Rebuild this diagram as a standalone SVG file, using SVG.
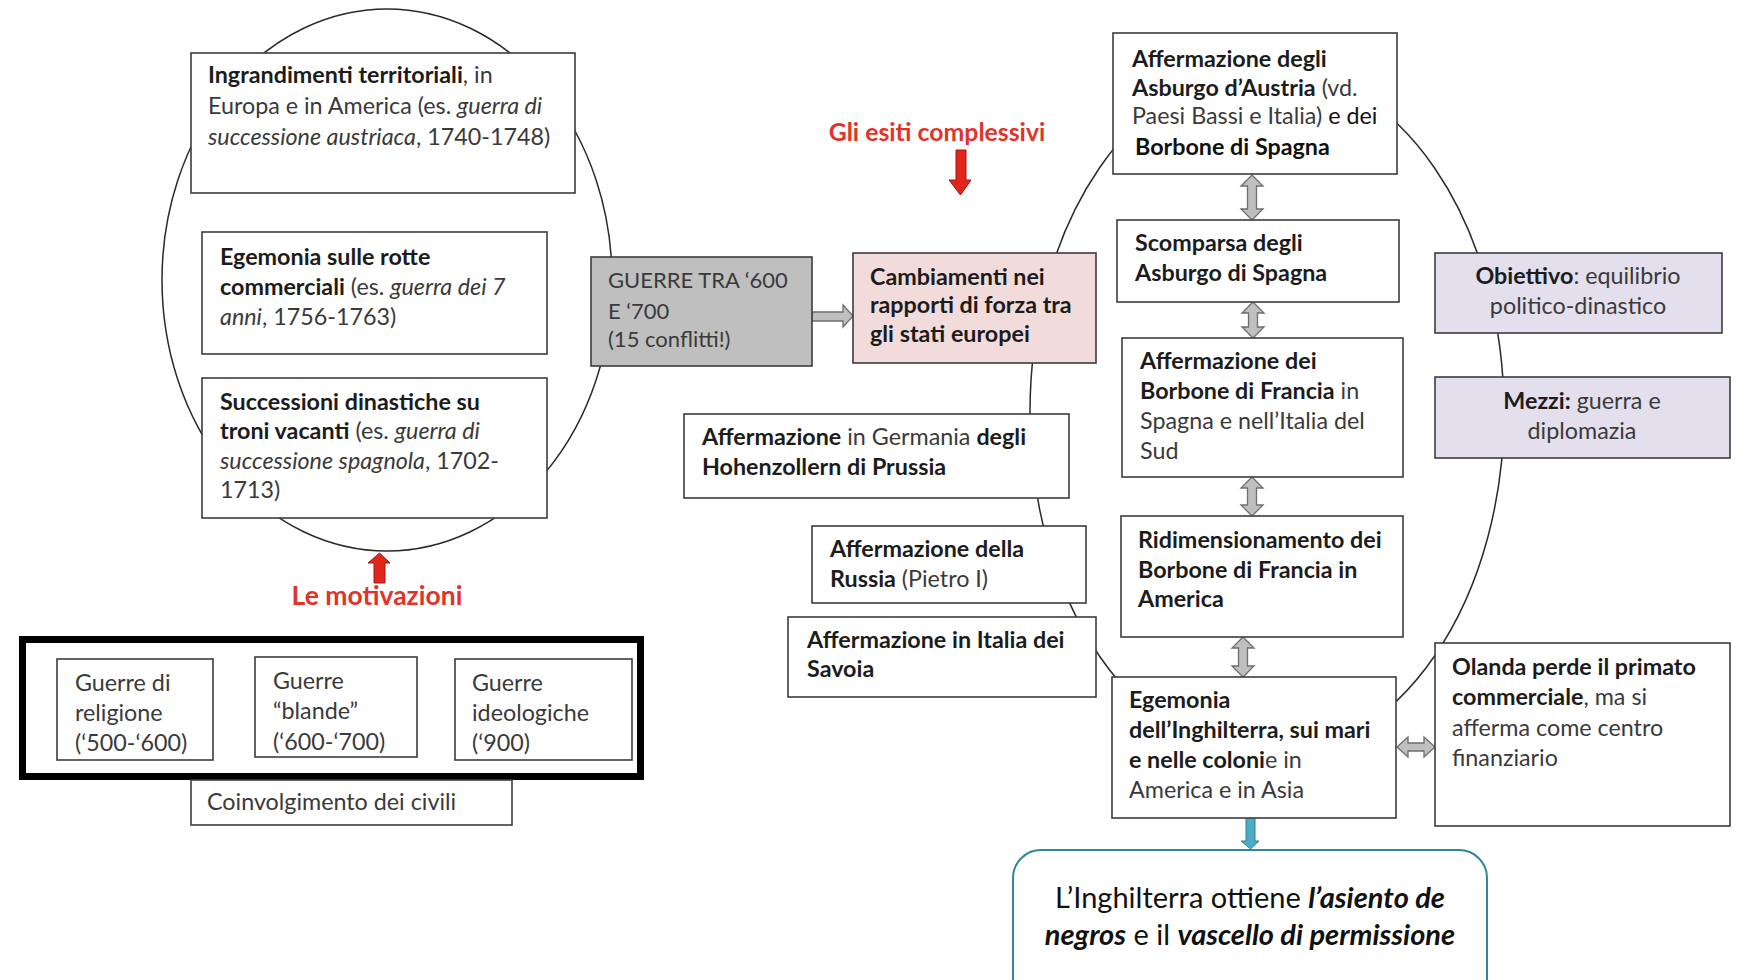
<svg xmlns="http://www.w3.org/2000/svg" width="1739" height="980" viewBox="0 0 1739 980">
<style>
.bx{fill:#fff;stroke:#3c3c3c;stroke-width:1.6}
.gray{fill:#bfbfbf;stroke:#3c3c3c;stroke-width:1.6}
.pink{fill:#f2dcdb;stroke:#3c3c3c;stroke-width:1.6}
.lav{fill:#e4dfec;stroke:#3c3c3c;stroke-width:1.6}
.ell{fill:none;stroke:#2a2a2a;stroke-width:1.5}
.t{font-family:Lato,"Liberation Sans",sans-serif;font-size:23.3px;fill:#3a3a3a}
.b{font-weight:bold;fill:#1c1c1c}
.i{font-style:italic}
.k{fill:#111}
.c{text-anchor:middle}
.red{font-family:Lato,"Liberation Sans",sans-serif;font-weight:bold;font-size:24.8px;fill:#e2332b;text-anchor:middle}
.ga{fill:#bfbfbf;stroke:#6e6e6e;stroke-width:1.3}
.ra{fill:#e3261b;stroke:#a3170f;stroke-width:1}
.ta{fill:#4bacc6;stroke:#2f7f94;stroke-width:1}
.call{fill:#fff;stroke:#31869c;stroke-width:2}
.ct{font-family:Lato,"Liberation Sans",sans-serif;font-size:29px;fill:#111;text-anchor:middle}
</style>

<ellipse class="ell" cx="387" cy="280" rx="225" ry="271"/>
<ellipse class="ell" cx="1267" cy="412" rx="237" ry="345"/>

<g id="connectors">
  <path class="ga" d="M812,312 L843,312 L843,305 L853,316 L843,327 L843,321 L812,321 Z"/>
  <path class="ra" d="M956,150 L966,150 L966,180 L971,180 L960.5,195 L949,180 L956,180 Z"/>
  <path class="ra" d="M374,583 L385,583 L385,563 L390,563 L379.5,553 L368,563 L374,563 Z"/>
  <path class="ga" d="M1252,175 L1263,186 L1256.5,186 L1256.5,209 L1263,209 L1252,220 L1241,209 L1247.5,209 L1247.5,186 L1241,186 Z"/>
  <path class="ga" d="M1253,302 L1264,313 L1257.5,313 L1257.5,327 L1264,327 L1253,338 L1242,327 L1248.5,327 L1248.5,313 L1242,313 Z"/>
  <path class="ga" d="M1252,477 L1263,488 L1256.5,488 L1256.5,505 L1263,505 L1252,516 L1241,505 L1247.5,505 L1247.5,488 L1241,488 Z"/>
  <path class="ga" d="M1243,637 L1254,648 L1247.5,648 L1247.5,666 L1254,666 L1243,677 L1232,666 L1238.5,666 L1238.5,648 L1232,648 Z"/>
  <path class="ga" d="M1397,747 L1408,737 L1408,743 L1424,743 L1424,737 L1435,747 L1424,757 L1424,751 L1408,751 L1408,757 Z"/>
  <path class="ta" d="M1246,815 L1255,815 L1255,841 L1259,841 L1250.5,849 L1241,841 L1246,841 Z"/>
</g>

<g id="ingrandimenti">
  <rect class="bx" x="191" y="53" width="384" height="140"/>
  <text class="t" x="208" y="83"><tspan class="b">Ingrandimenti territoriali</tspan>, in</text>
  <text class="t" x="208" y="114">Europa e in America (es. <tspan class="i">guerra di</tspan></text>
  <text class="t" x="208" y="145"><tspan class="i">successione austriaca</tspan>, 1740-1748)</text>
</g>

<g id="egemonia-rotte">
  <rect class="bx" x="202" y="232" width="345" height="122"/>
  <text class="t" x="220" y="265"><tspan class="b">Egemonia sulle rotte</tspan></text>
  <text class="t" x="220" y="295"><tspan class="b">commerciali</tspan> (es. <tspan class="i">guerra dei 7</tspan></text>
  <text class="t" x="220" y="325"><tspan class="i">anni</tspan>, 1756-1763)</text>
</g>

<g id="successioni">
  <rect class="bx" x="202" y="378" width="345" height="140"/>
  <text class="t" x="220" y="410"><tspan class="b">Successioni dinastiche su</tspan></text>
  <text class="t" x="220" y="439"><tspan class="b">troni vacanti</tspan> (es. <tspan class="i">guerra di</tspan></text>
  <text class="t" x="220" y="469"><tspan class="i">successione spagnola</tspan>, 1702-</text>
  <text class="t" x="220" y="498">1713)</text>
</g>

<g id="motivazioni">
  <text class="red" x="377" y="605" style="font-size:26.5px">Le motivazioni</text>
</g>

<g id="tipi-guerre">
  <rect x="22.5" y="639.5" width="618" height="137" fill="none" stroke="#000" stroke-width="7"/>
  <rect class="bx" x="57" y="659" width="156" height="101"/>
  <text class="t" x="75" y="691">Guerre di</text>
  <text class="t" x="75" y="721">religione</text>
  <text class="t" x="75" y="751">(‘500-‘600)</text>
  <rect class="bx" x="255" y="657" width="162" height="100"/>
  <text class="t" x="273" y="689">Guerre</text>
  <text class="t" x="273" y="719">“blande”</text>
  <text class="t" x="273" y="750">(‘600-‘700)</text>
  <rect class="bx" x="455" y="659" width="177" height="101"/>
  <text class="t" x="472" y="691">Guerre</text>
  <text class="t" x="472" y="721">ideologiche</text>
  <text class="t" x="472" y="751">(‘900)</text>
</g>

<g id="coinvolgimento">
  <rect class="bx" x="191" y="780" width="321" height="45"/>
  <text class="t" x="207" y="810">Coinvolgimento dei civili</text>
</g>

<g id="guerre">
  <rect class="gray" x="591" y="257" width="221" height="109"/>
  <text class="t" x="608" y="288" style="font-size:22px">GUERRE TRA ‘600</text>
  <text class="t" x="608" y="319" style="font-size:22px">E ‘700</text>
  <text class="t" x="608" y="347" style="font-size:22px">(15 conflitti!)</text>
</g>

<g id="esiti">
  <text class="red" x="937" y="141">Gli esiti complessivi</text>
</g>

<g id="cambiamenti">
  <rect class="pink" x="853" y="253" width="243" height="110"/>
  <text class="t b" x="870" y="285">Cambiamenti nei</text>
  <text class="t b" x="870" y="313">rapporti di forza tra</text>
  <text class="t b" x="870" y="342">gli stati europei</text>
</g>

<g id="hohenzollern">
  <rect class="bx" x="684" y="414" width="385" height="84"/>
  <text class="t" x="702" y="445"><tspan class="b">Affermazione</tspan> in Germania <tspan class="b">degli</tspan></text>
  <text class="t b" x="702" y="475">Hohenzollern di Prussia</text>
</g>

<g id="russia">
  <rect class="bx" x="812" y="526" width="274" height="77"/>
  <text class="t b" x="830" y="557">Affermazione della</text>
  <text class="t" x="830" y="587"><tspan class="b">Russia</tspan> (Pietro I)</text>
</g>

<g id="savoia">
  <rect class="bx" x="788" y="617" width="308" height="80"/>
  <text class="t b" x="807" y="648">Affermazione in Italia dei</text>
  <text class="t b" x="807" y="677">Savoia</text>
</g>

<g id="asburgo-austria">
  <rect class="bx" x="1113" y="33" width="284" height="141"/>
  <text class="t" x="1132" y="67"><tspan class="b">Affermazione degli</tspan></text>
  <text class="t" x="1132" y="96"><tspan class="b">Asburgo d’Austria</tspan> (vd.</text>
  <text class="t" x="1132" y="124">Paesi Bassi e Italia) <tspan class="k">e dei</tspan></text>
  <text class="t b k" x="1135" y="155">Borbone di Spagna</text>
</g>

<g id="scomparsa">
  <rect class="bx" x="1117" y="220" width="282" height="82"/>
  <text class="t b" x="1135" y="251">Scomparsa degli</text>
  <text class="t b" x="1135" y="281">Asburgo di Spagna</text>
</g>

<g id="borbone-francia">
  <rect class="bx" x="1122" y="338" width="281" height="139"/>
  <text class="t b" x="1140" y="369">Affermazione dei</text>
  <text class="t" x="1140" y="399"><tspan class="b">Borbone di Francia</tspan> in</text>
  <text class="t" x="1140" y="429">Spagna e nell’Italia del</text>
  <text class="t" x="1140" y="459">Sud</text>
</g>

<g id="ridimensionamento">
  <rect class="bx" x="1121" y="516" width="282" height="121"/>
  <text class="t b" x="1138" y="548">Ridimensionamento dei</text>
  <text class="t b" x="1138" y="578">Borbone di Francia in</text>
  <text class="t b" x="1138" y="607">America</text>
</g>

<g id="inghilterra">
  <rect class="bx" x="1112" y="677" width="284" height="141"/>
  <text class="t b" x="1129" y="708">Egemonia</text>
  <text class="t b" x="1129" y="738">dell’Inghilterra, sui mari</text>
  <text class="t" x="1129" y="768"><tspan class="b">e nelle coloni</tspan>e in</text>
  <text class="t" x="1129" y="798">America e in Asia</text>
</g>

<g id="olanda">
  <rect class="bx" x="1435" y="643" width="295" height="183"/>
  <text class="t b" x="1452" y="675">Olanda perde il primato</text>
  <text class="t" x="1452" y="705"><tspan class="b">commerciale</tspan>, ma si</text>
  <text class="t" x="1452" y="736">afferma come centro</text>
  <text class="t" x="1452" y="766">finanziario</text>
</g>

<g id="obiettivo">
  <rect class="lav" x="1435" y="253" width="287" height="80"/>
  <text class="t c" x="1578" y="284"><tspan class="b">Obiettivo</tspan>: equilibrio</text>
  <text class="t c" x="1578" y="314">politico-dinastico</text>
</g>

<g id="mezzi">
  <rect class="lav" x="1435" y="377" width="295" height="81"/>
  <text class="t c" x="1582" y="409"><tspan class="b">Mezzi:</tspan> guerra e</text>
  <text class="t c" x="1582" y="439">diplomazia</text>
</g>

<g id="asiento">
  <rect class="call" x="1013" y="850" width="474" height="170" rx="28"/>
  <text class="ct" x="1250" y="908">L’Inghilterra ottiene <tspan font-weight="bold" font-style="italic">l’asiento de</tspan></text>
  <text class="ct" x="1250" y="945"><tspan font-weight="bold" font-style="italic">negros</tspan> e il <tspan font-weight="bold" font-style="italic">vascello di permissione</tspan></text>
</g>
</svg>
